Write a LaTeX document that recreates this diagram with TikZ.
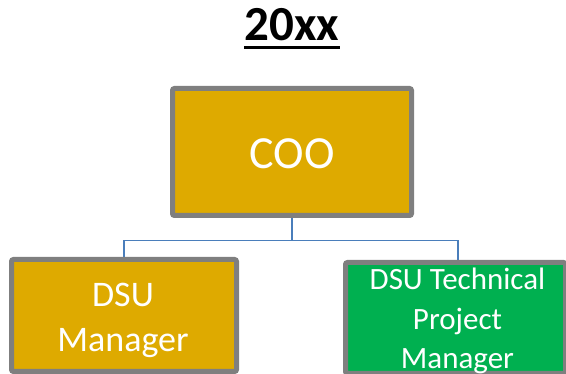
\documentclass[tikz,border=0pt]{standalone}
\usepackage{fontspec}
\setmainfont{Carlito}
\usetikzlibrary{backgrounds}
\definecolor{gold}{RGB}{222,170,0}
\definecolor{okgreen}{RGB}{0,176,80}
\definecolor{bordergray}{RGB}{127,127,127}
\definecolor{connblue}{RGB}{74,126,187}
\tikzset{
  orgbox/.style={draw=bordergray, line width=5pt, rounded corners=2pt, inner sep=0pt},
  boxtext/.style={text=white, align=center, inner sep=0pt},
  conn/.style={draw=connblue, line width=1.4pt},
}
\begin{document}
\begin{tikzpicture}[x=1pt,y=-1pt]
\useasboundingbox (0,0) rectangle (566,374);
% title
\node[anchor=base, inner sep=0pt, font=\fontsize{49}{49}\selectfont\bfseries] (title) at (292,41) {20xx};
\draw[line width=2.6pt] ([yshift=-6.5pt]title.base west) -- ([yshift=-6.5pt]title.base east);
% boxes
\node[orgbox, fill=gold, minimum width=239pt, minimum height=127pt] (coo) at (292,152) {};
\node[orgbox, fill=gold, minimum width=225pt, minimum height=112pt] (dsu) at (124,315.5) {};
\node[orgbox, fill=okgreen, minimum width=220pt, minimum height=111pt] (tpm) at (455.5,318) {};
% texts
\node[boxtext, font=\fontsize{46}{46}\selectfont] (cooT) at (292,154) {COO};
\node[boxtext, font=\fontsize{36}{45}\selectfont] (dsuT) at (123,320) {DSU\\Manager};
\node[boxtext, font=\fontsize{31}{39.3}\selectfont] (tpmT) at (457.5,321.2) {DSU Technical\\Project\\Manager};
% connectors
\begin{scope}[on background layer]
\draw[conn] (coo.south) -- ++(0,22.5) coordinate (j) -| (dsu.north);
\draw[conn] (j) -| ([xshift=2.5pt]tpm.north);
\end{scope}
\end{tikzpicture}
\end{document}
